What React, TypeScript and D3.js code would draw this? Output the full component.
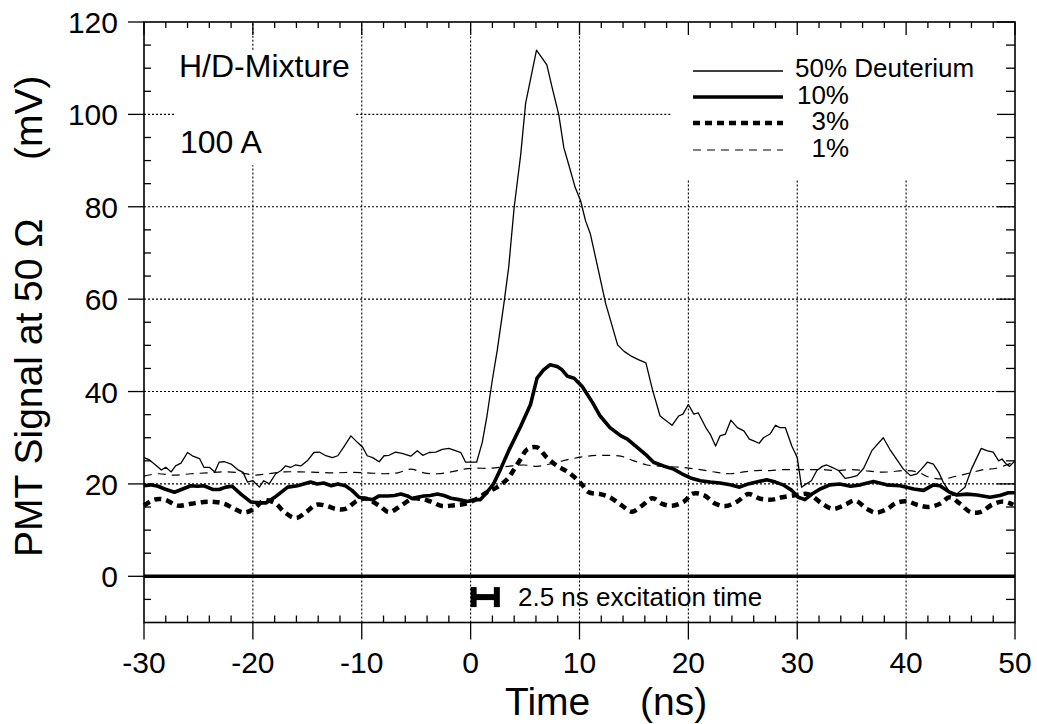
import React from "react";
import * as d3 from "d3";

type P = [number, number];

// ---- data ----
const deut50: P[] = [
  [-30, 25.7], [-29.5, 25.2], [-29.05, 24.3], [-28.4, 23.0], [-28.0, 23.6], [-27.5, 22.6], [-27.1, 23.9],
  [-26.6, 24.5], [-26.0, 26.8], [-25.5, 26.0], [-24.9, 25.5], [-24.5, 23.6], [-24.0, 23.6], [-23.5, 22.6],
  [-23.1, 24.7], [-22.6, 24.8], [-22.0, 24.3], [-21.4, 23.1], [-20.9, 22.5], [-20.5, 20.4], [-20.0, 20.7],
  [-19.4, 19.3], [-19.0, 20.7], [-18.5, 20.0], [-17.9, 22.2], [-17.4, 22.9], [-17.0, 23.9], [-16.5, 23.6],
  [-16.1, 24.1], [-15.6, 23.9], [-15.0, 25.0], [-14.4, 26.8], [-13.9, 26.9], [-13.3, 26.1], [-12.7, 25.7],
  [-12.2, 26.1], [-11.6, 28.2], [-11.0, 30.4], [-10.4, 29.0], [-9.9, 27.9], [-9.5, 26.1], [-9.0, 25.7],
  [-8.4, 24.8], [-7.95, 26.1], [-7.5, 26.2], [-6.9, 26.9], [-6.3, 26.6], [-5.5, 26.0], [-4.9, 27.2],
  [-4.4, 26.2], [-3.8, 26.8], [-3.2, 26.9], [-2.6, 27.5], [-2.0, 27.7], [-1.4, 27.2], [-0.9, 26.8],
  [-0.46, 24.7], [0.55, 24.7], [1.07, 29.0], [1.5, 34.7], [2.0, 42.6], [2.45, 49.0], [3.06, 59.1],
  [3.5, 67.0], [4.0, 79.9], [4.6, 91.3], [5.05, 102.4], [6.05, 113.9], [7.0, 110.7], [7.5, 105.7],
  [8.1, 99.9], [8.56, 92.8], [9.0, 89.2], [9.6, 84.2], [10.1, 81.3], [10.55, 77.0], [11.0, 74.1],
  [11.6, 67.7], [12.4, 59.1], [13.5, 50.1], [14.1, 48.7], [14.8, 47.6], [15.4, 46.9], [16.1, 46.2],
  [16.7, 40.4], [17.4, 34.7], [18.5, 32.7], [19.1, 34.7], [19.5, 35.1], [20.0, 37.2], [20.5, 35.1],
  [20.9, 35.4], [21.6, 32.2], [22.0, 30.8], [22.5, 28.2], [22.9, 30.4], [23.4, 30.8], [23.9, 33.8],
  [24.5, 32.2], [25.1, 31.5], [25.6, 29.7], [26.0, 29.3], [26.5, 28.8], [26.9, 30.0], [27.5, 30.8],
  [28.0, 32.7], [28.4, 32.2], [28.9, 32.2], [29.5, 28.2], [30.0, 25.7], [30.4, 19.3], [30.7, 19.8],
  [31.3, 20.7], [31.8, 22.9], [32.3, 23.8], [32.7, 24.1], [33.2, 23.6], [33.8, 22.9], [34.4, 21.2],
  [34.9, 21.4], [35.5, 21.8], [36.1, 23.4], [36.85, 27.2], [37.9, 30.0], [38.5, 27.5], [39.1, 25.4],
  [39.75, 23.2], [40.4, 21.8], [41.0, 22.2], [41.4, 23.2], [41.95, 24.7], [42.5, 24.3], [43.0, 22.5],
  [43.4, 20.4], [43.9, 18.6], [44.3, 17.5], [44.65, 17.8], [45.4, 19.3], [46.0, 23.2], [46.9, 27.7],
  [47.4, 27.2], [48.0, 26.9], [48.5, 25.0], [48.8, 25.4], [49.2, 24.3], [49.5, 23.8], [50.0, 25.0],
];

const deut10: P[] = [
  [-30, 19.6], [-29.4, 19.8], [-28.7, 19.5], [-28.1, 18.9], [-27.2, 18.2], [-26.45, 18.9], [-25.7, 19.6],
  [-25.1, 19.5], [-24.5, 19.6], [-23.7, 18.8], [-23.1, 18.8], [-22.5, 19.3], [-21.9, 19.5], [-21.1, 17.8],
  [-20.2, 16.1], [-19.4, 15.9], [-18.8, 15.9], [-18.0, 17.1], [-16.8, 19.3], [-15.9, 19.6], [-14.7, 20.4],
  [-14.1, 20.0], [-13.5, 20.2], [-12.8, 19.6], [-12.2, 20.0], [-11.5, 19.6], [-10.9, 18.6], [-10.25, 17.1],
  [-9.6, 16.8], [-9.0, 16.6], [-8.4, 17.4], [-7.6, 17.4], [-7.0, 17.5], [-6.4, 17.8], [-5.8, 17.4],
  [-5.35, 16.8], [-4.9, 17.1], [-4.3, 17.4], [-3.7, 17.5], [-3.05, 17.8], [-2.45, 17.5], [-1.8, 16.9],
  [-1.07, 16.6], [-0.3, 16.2], [0.46, 16.6], [0.9, 16.6], [1.5, 18.2], [2.1, 20.0], [2.75, 23.2],
  [3.5, 27.2], [4.6, 32.5], [5.5, 37.2], [6.1, 42.9], [6.7, 44.7], [7.3, 45.8], [7.95, 45.4], [8.4, 44.7],
  [8.9, 43.3], [9.5, 42.9], [10.25, 41.1], [11.2, 37.6], [11.9, 34.7], [12.8, 32.2], [13.8, 30.4],
  [14.4, 29.7], [15.3, 27.9], [16.2, 26.1], [16.8, 24.7], [17.7, 23.9], [18.65, 23.2], [19.4, 22.2],
  [20.2, 21.3], [21.1, 20.7], [22.0, 20.4], [22.9, 20.2], [23.85, 19.8], [24.7, 19.3], [25.5, 20.0],
  [26.45, 20.5], [27.2, 20.9], [28.0, 20.4], [28.7, 19.8], [29.5, 18.6], [30.1, 17.1], [30.7, 16.6],
  [31.35, 17.8], [32.1, 18.9], [33.0, 19.8], [33.9, 20.0], [34.9, 19.5], [35.8, 19.8], [37.0, 20.5],
  [38.2, 19.8], [39.45, 19.6], [40.7, 18.9], [41.6, 18.6], [42.5, 19.8], [43.1, 19.6], [44.0, 18.2],
  [44.65, 17.6], [45.6, 17.8], [46.5, 17.6], [47.7, 17.1], [48.6, 17.5], [49.4, 18.1], [50, 18.1],
];

const deut3: P[] = [
  [-30, 15.3], [-29.05, 16.6], [-28.1, 16.6], [-26.9, 15.3], [-25.7, 15.7], [-24.5, 16.1], [-23.5, 16.1],
  [-22.6, 15.7], [-21.7, 14.6], [-20.8, 13.8], [-19.9, 14.6], [-19.0, 16.4], [-18.0, 15.9], [-17.1, 13.9],
  [-16.05, 12.6], [-15.1, 13.9], [-14.2, 15.5], [-13.3, 15.3], [-12.4, 14.6], [-11.5, 14.6], [-10.4, 16.4],
  [-9.6, 16.8], [-8.4, 15.3], [-7.5, 13.9], [-6.4, 15.3], [-5.35, 16.8], [-4.6, 16.8], [-3.7, 16.2],
  [-2.6, 15.2], [-1.5, 15.4], [-0.5, 15.7], [0.6, 16.8], [1.5, 18.2], [2.45, 19.3], [3.4, 21.1],
  [4.0, 23.2], [4.6, 25.4], [5.2, 27.5], [6.1, 27.9], [7.0, 25.7], [7.95, 23.9], [9.0, 22.5], [10.1, 20.2],
  [10.85, 18.2], [11.9, 17.8], [12.8, 17.1], [13.9, 15.3], [14.8, 14.0], [15.75, 15.3], [16.7, 16.9],
  [17.6, 15.7], [18.5, 15.3], [19.6, 16.2], [20.4, 17.9], [21.4, 17.6], [22.5, 15.7], [23.4, 15.2],
  [24.5, 16.2], [25.5, 17.8], [26.6, 16.8], [27.7, 16.6], [28.6, 17.1], [30.0, 17.6], [31.0, 17.8],
  [32.3, 15.7], [33.3, 14.6], [34.4, 15.5], [35.3, 16.4], [36.4, 14.6], [37.2, 13.8], [38.2, 14.5],
  [39.1, 15.9], [40.1, 16.2], [41.0, 15.5], [42.05, 15.0], [43.1, 15.7], [44.0, 17.1], [44.95, 15.7],
  [45.9, 13.9], [46.8, 13.9], [47.9, 15.5], [48.9, 16.2], [49.85, 15.5],
];

const deut1: P[] = [
  [-30, 21.7], [-28.7, 22.2], [-27.2, 21.9], [-25.7, 22.2], [-24.2, 22.4], [-22.6, 22.6], [-21.1, 22.4],
  [-19.9, 21.9], [-18.65, 22.2], [-17.1, 22.6], [-15.6, 22.6], [-14.1, 22.5], [-12.5, 22.4], [-11.0, 22.5],
  [-9.5, 22.4], [-7.95, 22.2], [-6.7, 22.4], [-5.5, 23.2], [-4.3, 22.4], [-3.05, 22.2], [-1.8, 22.6],
  [-0.6, 23.2], [0.3, 23.4], [1.8, 23.4], [3.4, 23.8], [4.9, 24.1], [6.1, 23.8], [7.6, 24.5], [9.2, 25.4],
  [10.7, 26.0], [12.2, 26.2], [13.8, 26.0], [15.0, 25.0], [16.2, 24.1], [17.7, 23.8], [19.3, 23.6],
  [20.8, 23.2], [22.6, 22.5], [23.85, 22.2], [25.1, 22.6], [26.3, 22.9], [27.5, 22.9], [28.7, 23.1],
  [30.0, 23.1], [31.2, 23.1], [32.4, 23.1], [33.6, 22.9], [34.9, 23.1], [36.1, 22.9], [37.3, 22.6],
  [38.5, 22.6], [39.75, 22.9], [41.0, 22.6], [42.2, 21.4], [43.4, 21.1], [44.65, 21.7], [45.9, 22.4],
  [47.1, 23.1], [48.3, 23.4], [49.85, 24.7],
];

const legendLabels = ["50% Deuterium", "10%", "3%", "1%"];
const xTickLabels = [-30, -20, -10, 0, 10, 20, 30, 40, 50];
const yTickLabels = [0, 20, 40, 60, 80, 100, 120];
// gridline spans in data units [from, to]
const vGrid: { x: number; spans: P[] }[] = [
  { x: -20, spans: [[114, 120], [-10, 89]] },
  { x: -10, spans: [[-10, 120]] },
  { x: 0, spans: [[-10, 120]] },
  { x: 10, spans: [[-10, 120]] },
  { x: 20, spans: [[-10, 86]] },
  { x: 30, spans: [[-10, 86]] },
  { x: 40, spans: [[-10, 86]] },
];
const hGrid: { y: number; spans: P[] }[] = [
  { y: 20, spans: [[-30, 50]] },
  { y: 40, spans: [[-30, 50]] },
  { y: 60, spans: [[-30, 50]] },
  { y: 80, spans: [[-30, 50]] },
  { y: 100, spans: [[-30, -27.1], [-10.5, 18.4]] },
];

const FONT = "'Liberation Sans', Arial, Helvetica, sans-serif";

export default function App() {
  const W = 1037, H = 724;
  const x = d3.scaleLinear().domain([-30, 50]).range([144, 1015]);
  const y = d3.scaleLinear().domain([-10, 120]).range([622.5, 22]);
  const [x0, x1] = x.range();
  const [yb, yt] = y.range();

  const lin = d3.line<P>().x((d) => x(d[0])).y((d) => y(d[1]));
  const smooth = d3.line<P>().x((d) => x(d[0])).y((d) => y(d[1])).curve(d3.curveCatmullRom.alpha(0.5));

  const series = [
    { data: deut50, gen: lin, w: 1.3, dash: undefined as string | undefined },
    { data: deut10, gen: lin, w: 3.6, dash: undefined },
    { data: deut3, gen: smooth, w: 4.5, dash: "7,5" },
    { data: deut1, gen: smooth, w: 1.2, dash: "8,6" },
  ];

  const xMinor = d3.range(-30, 51, 2).filter((v) => v % 10 !== 0);
  const xMajor = d3.range(-30, 51, 10);
  const yMinor = d3.range(-5, 120, 5).filter((v) => v % 20 !== 0);
  const yMajor = d3.range(0, 121, 20);

  const legendY = [71, 97, 123, 150];

  return (
    <div style={{ position: "absolute", left: 0, top: 0 }}>
      <svg width={W} height={H} style={{ display: "block", background: "#fff" }} fontFamily={FONT}>
        <rect width={W} height={H} fill="#fff" />
        {/* grid */}
        <g stroke="#000" strokeWidth={1.1} strokeDasharray="2,2">
          {vGrid.map((g) =>
            g.spans.map((s, i) => (
              <line key={`v${g.x}-${i}`} x1={x(g.x)} x2={x(g.x)} y1={y(s[0])} y2={y(s[1])} />
            ))
          )}
          {hGrid.map((g) =>
            g.spans.map((s, i) => (
              <line key={`h${g.y}-${i}`} x1={x(s[0])} x2={x(s[1])} y1={y(g.y)} y2={y(g.y)} />
            ))
          )}
        </g>
        {/* zero line */}
        <line x1={x0} x2={x1} y1={y(0)} y2={y(0)} stroke="#000" strokeWidth={3.5} />
        {/* ticks */}
        <g stroke="#000" strokeWidth={1.3}>
          {xMinor.map((v) => (
            <g key={`xm${v}`}>
              <line x1={x(v)} x2={x(v)} y1={yb} y2={yb - 7} />
              <line x1={x(v)} x2={x(v)} y1={yt} y2={yt + 6} />
            </g>
          ))}
          {xMajor.map((v) => (
            <g key={`xM${v}`}>
              <line x1={x(v)} x2={x(v)} y1={yb} y2={yb + 17} />
              <line x1={x(v)} x2={x(v)} y1={yt} y2={yt + 13} />
            </g>
          ))}
          {yMinor.map((v) => (
            <g key={`ym${v}`}>
              <line x1={x0} x2={x0 + 7} y1={y(v)} y2={y(v)} />
              <line x1={x1} x2={x1 - 9} y1={y(v)} y2={y(v)} />
            </g>
          ))}
          {yMajor.map((v) => (
            <g key={`yM${v}`}>
              <line x1={x0 - 16} x2={x0} y1={y(v)} y2={y(v)} />
              <line x1={x1} x2={x1 - 18} y1={y(v)} y2={y(v)} />
            </g>
          ))}
        </g>
        {/* frame */}
        <rect x={x0} y={yt} width={x1 - x0} height={yb - yt} fill="none" stroke="#000" strokeWidth={1.6} />
        {/* series */}
        {series.map((s, i) => (
          <path key={i} d={s.gen(s.data) || ""} fill="none" stroke="#000" strokeWidth={s.w}
            strokeDasharray={s.dash} strokeLinejoin="round" />
        ))}
        {/* tick labels */}
        <g fontSize={30} fill="#000">
          {xTickLabels.map((v) => (
            <text key={`xl${v}`} x={x(v)} y={673} textAnchor="middle">{v}</text>
          ))}
          {yTickLabels.map((v) => (
            <text key={`yl${v}`} x={118} y={y(v) + 11} textAnchor="end">{v}</text>
          ))}
        </g>
        {/* axis titles */}
        <g fontSize={39} fill="#000">
          <text x={505} y={715}>Time</text>
          <text x={640} y={715}>(ns)</text>
          <g transform="translate(42,557) rotate(-90)">
            <text x={0} y={0}>PMT Signal at 50 Ω</text>
            <text x={397} y={0}>(mV)</text>
          </g>
        </g>
        {/* annotations */}
        <g fontSize={32} fill="#000">
          <text x={179} y={77}>H/D-Mixture</text>
          <text x={180} y={153}>100 A</text>
        </g>
        <g stroke="#000" strokeWidth={6} fill="none">
          <line x1={x(0) + 3} x2={x(0) + 3} y1={y(-4.5) - 10} y2={y(-4.5) + 10} />
          <line x1={x(2.5) - 1} x2={x(2.5) - 1} y1={y(-4.5) - 10} y2={y(-4.5) + 10} />
          <line x1={x(0) + 3} x2={x(2.5) - 1} y1={y(-4.5)} y2={y(-4.5)} />
        </g>
        <text x={518} y={606} fontSize={26} fill="#000">2.5 ns excitation time</text>
        {/* legend */}
        {series.map((s, i) => (
          <line key={`lg${i}`} x1={693} x2={783} y1={legendY[i]} y2={legendY[i]} stroke="#000"
            strokeWidth={s.w} strokeDasharray={s.dash} />
        ))}
        <text fontSize={26} fill="#000">
          <tspan x={795} y={legendY[0] + 6}>{legendLabels[0]}</tspan>
          {legendLabels.slice(1).map((l, i) => (
            <tspan key={l} x={849} y={legendY[i + 1] + 7} textAnchor="end">{l}</tspan>
          ))}
        </text>
      </svg>
    </div>
  );
}
